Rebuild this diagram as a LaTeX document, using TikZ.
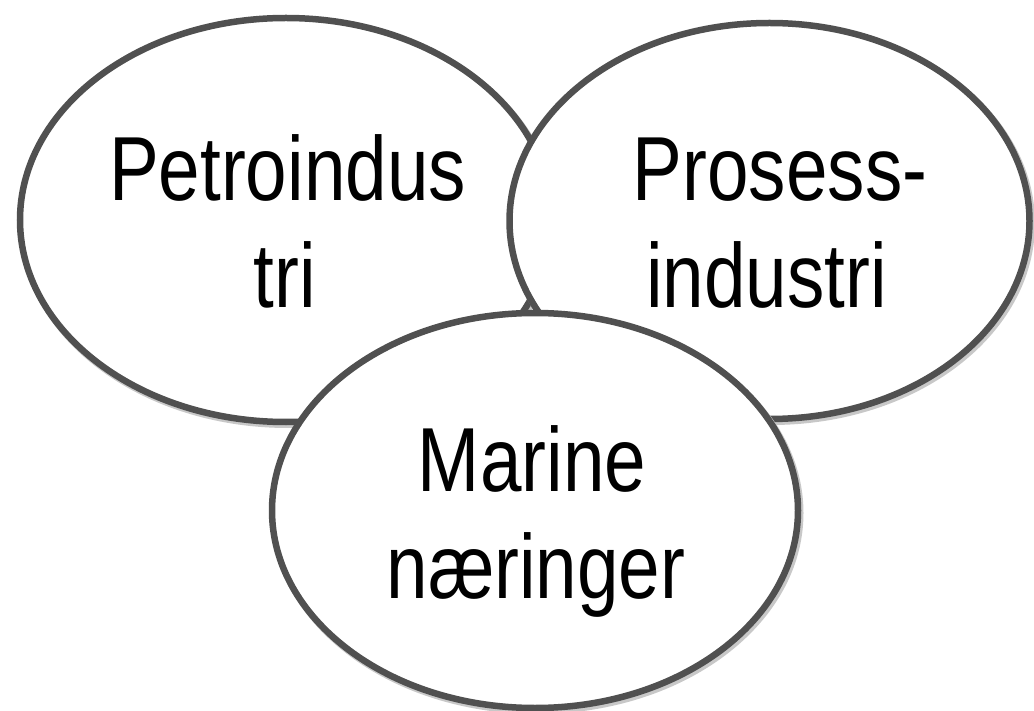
\documentclass[tikz,border=0pt]{standalone}
\usepackage{fontspec}
\setmainfont{Liberation Sans}
\newfontfamily\narrowfont[FakeStretch=0.82]{Liberation Sans}
\usetikzlibrary{shapes.geometric}
\definecolor{edgegray}{RGB}{80,80,80}
\definecolor{shadowgray}{RGB}{200,200,200}
\tikzset{
  bubble/.style={ellipse, draw=edgegray, line width=6.5pt, fill=white, inner sep=0pt},
  bubbleshadow/.style={ellipse, draw=shadowgray, line width=7pt, inner sep=0pt},
  label/.style={anchor=base, inner sep=0pt, font=\narrowfont\fontsize{91}{107}\selectfont, text=black}
}
\begin{document}
\begin{tikzpicture}[x=1pt,y=-1pt]
\useasboundingbox (0,0) rectangle (1034,711);
% left
\node[bubbleshadow, minimum width=532pt, minimum height=404pt] (ls) at (288,222.5) {};
\node[bubble, minimum width=532pt, minimum height=404pt] (left) at (286,220) {};
\node[label] (l1) at (287.5,201) {Petroindus};
\node[label] (l2) at (285,308) {tri};
% right
\node[bubbleshadow, minimum width=520pt, minimum height=396pt] (rs) at (771.5,223.5) {};
\node[bubble, minimum width=520pt, minimum height=396pt] (right) at (769.5,221) {};
\node[label] (r1) at (780,201) {Prosess-};
\node[label] (r2) at (766.5,308) {industri};
% bottom
\node[bubbleshadow, minimum width=526pt, minimum height=395pt] (bs) at (537,513) {};
\node[bubble, minimum width=526pt, minimum height=395pt] (bottom) at (535,510.5) {};
\node[label] (b1) at (532,491) {Marine};
\node[label] (b2) at (536,598) {næringer};
\end{tikzpicture}
\end{document}
